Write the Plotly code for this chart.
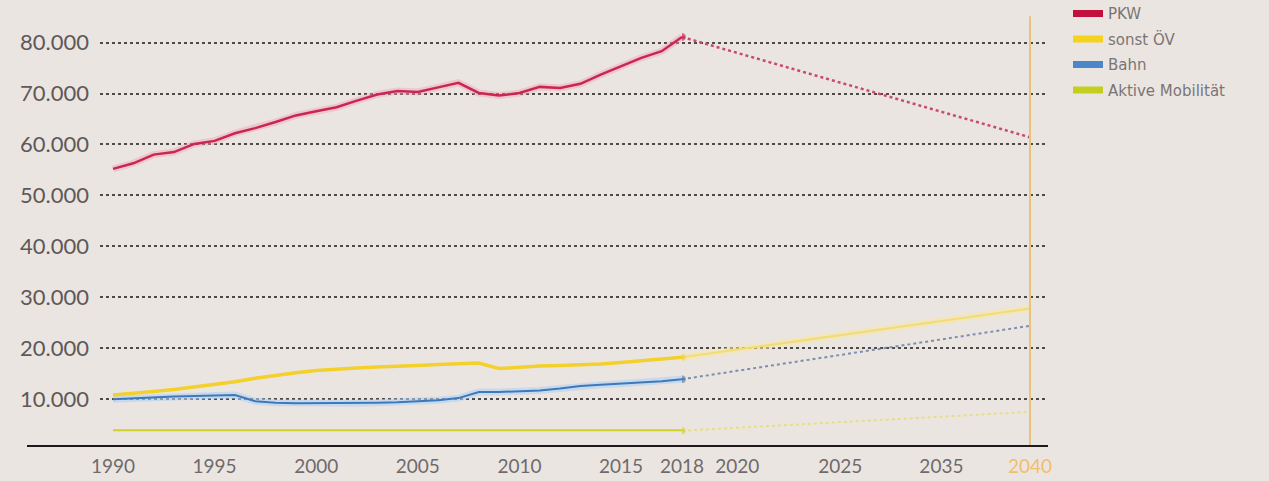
import plotly.graph_objects as go

# ---- data ----
years = list(range(1990, 2019))
pkw = [55200, 56300, 58000, 58500, 60100, 60700, 62200, 63200, 64400, 65700,
       66500, 67300, 68600, 69800, 70500, 70300, 71200, 72100, 70100, 69600,
       70100, 71300, 71100, 71900, 73700, 75400, 77000, 78300, 81100]
sonst_oev = [10800, 11100, 11500, 11900, 12400, 12900, 13400, 14100, 14700, 15200,
             15600, 15900, 16100, 16300, 16400, 16600, 16800, 17000, 17100, 16000,
             16300, 16500, 16600, 16700, 16900, 17200, 17600, 17900, 18200]
bahn = [10000, 10200, 10400, 10500, 10600, 10700, 10800, 9600, 9300, 9200,
        9200, 9200, 9200, 9300, 9400, 9600, 9800, 10200, 11400, 11400,
        11500, 11700, 12100, 12600, 12800, 13000, 13300, 13500, 13900]
aktiv = [3900] * 29

proj_years = [2018, 2040]
pkw_proj = [81100, 61400]
sonst_oev_proj = [18200, 27800]
bahn_proj = [13900, 24400]
aktiv_proj = [3800, 7500]

hist_ticks = [1990, 1995, 2000, 2005, 2010, 2015, 2018]
proj_tick_labels = ["2020", "2025", "2035", "2040"]
proj_tick_pos = [2021.5, 2028.0, 2034.4, 2040]
y_ticks = [10000, 20000, 30000, 40000, 50000, 60000, 70000, 80000]

names = ["PKW", "sonst ÖV", "Bahn", "Aktive Mobilität"]
legend_colors = ["#c2103f", "#f5d21c", "#4a86c8", "#c3cf1c"]

# ---- styles ----
BG = "#ebe5e2"
c_pkw = "#c8284f"
c_oev = "#f3d02a"
c_bahn = "#3f78b8"
c_akt = "#cfd12a"

fig = go.Figure()

# halos
fig.add_trace(go.Scatter(x=years, y=pkw, mode="lines", xaxis="x", yaxis="y",
                         line=dict(color="rgba(240,160,185,0.45)", width=7),
                         hoverinfo="skip", showlegend=False))
fig.add_trace(go.Scatter(x=years, y=bahn, mode="lines", xaxis="x", yaxis="y",
                         line=dict(color="rgba(175,210,245,0.6)", width=7),
                         hoverinfo="skip", showlegend=False))
fig.add_trace(go.Scatter(x=proj_years, y=sonst_oev_proj, mode="lines", xaxis="x2", yaxis="y",
                         line=dict(color="rgba(248,232,160,0.55)", width=7),
                         hoverinfo="skip", showlegend=False))

# historical lines
fig.add_trace(go.Scatter(x=years, y=aktiv, mode="lines", name=names[3],
                         line=dict(color=c_akt, width=2), showlegend=False))
fig.add_trace(go.Scatter(x=years, y=sonst_oev, mode="lines", name=names[1],
                         line=dict(color=c_oev, width=3.5), showlegend=False))
fig.add_trace(go.Scatter(x=years, y=bahn, mode="lines", name=names[2],
                         line=dict(color=c_bahn, width=2), showlegend=False))
fig.add_trace(go.Scatter(x=years, y=pkw, mode="lines", name=names[0],
                         line=dict(color=c_pkw, width=2.5), showlegend=False))

# projections
proj = [(pkw_proj, "#c84a6c", c_pkw, "dot", 2.5),
        (sonst_oev_proj, "#f1dc78", c_oev, "solid", 2),
        (bahn_proj, "#7d8fae", c_bahn, "dot", 2),
        (aktiv_proj, "#e4df86", c_akt, "dot", 2)]
for i, (vals, lc, mc, dash, w) in enumerate(proj):
    fig.add_trace(go.Scatter(x=proj_years, y=vals, mode="lines+markers",
                             xaxis="x2", yaxis="y",
                             line=dict(color=lc, width=w, dash=dash),
                             marker=dict(color=mc, size=[7, 0]),
                             showlegend=False, hoverinfo="skip"))

# legend entries
for n, c in zip(names, legend_colors):
    fig.add_trace(go.Scatter(x=[None], y=[None], mode="lines", name=n, legendgroup=n,
                             line=dict(color=c, width=7), showlegend=True))

L, R = 100, 1048
W = 1269
split = (682 - L) / (R - L)

fig.update_layout(
    width=W, height=481,
    margin=dict(l=L, r=W - R, t=12, b=35, autoexpand=False),
    paper_bgcolor=BG, plot_bgcolor=BG,
    separators=",.",
    font=dict(family="Lato, sans-serif", color="#6a6464"),
    xaxis=dict(domain=[0, split], range=[1990 - 13 / 20.32, 2018],
               tickvals=hist_ticks, ticktext=[str(t) for t in hist_ticks],
               showgrid=False, zeroline=False, showline=False, ticks="",
               tickfont=dict(size=19, color="#6f6a6a"), ticklabelstandoff=7,
               anchor="y"),
    xaxis2=dict(domain=[split, 1], range=[2018, 2040 + 18 / 15.82],
                tickvals=proj_tick_pos,
                ticktext=proj_tick_labels[:-1] + ["<span style='color:#f2bd6e'>2040</span>"],
                showgrid=False, zeroline=False, showline=False, ticks="",
                tickfont=dict(size=19, color="#6f6a6a"), ticklabelstandoff=7,
                anchor="y"),
    yaxis=dict(range=[800, 86000], tickvals=y_ticks, tickformat=",d",
               showgrid=True, gridcolor="#4e4a4a", griddash="dot", gridwidth=1.5,
               zeroline=False, showline=False, ticks="",
               tickfont=dict(size=22, color="#5e5858"), ticklabelstandoff=10),
    legend=dict(x=(1068 - L) / (R - L), xanchor="left", y=1.034, yanchor="top",
                bgcolor="rgba(0,0,0,0)",
                font=dict(family="DejaVu Sans, sans-serif", size=15, color="#7a7575"),
                itemwidth=30, tracegroupgap=3),
    shapes=[
        dict(type="line", xref="x2", yref="paper", x0=2040, x1=2040, y0=0, y1=0.99,
             line=dict(color="#e9c27c", width=2)),
        dict(type="line", xref="paper", yref="paper", x0=(27 - L) / (R - L), x1=1,
             y0=0, y1=0, line=dict(color="#1e1a1c", width=2)),
    ],
    showlegend=True,
)

fig.write_html("out.html", config={"displayModeBar": False},
               post_script="document.body.style.margin='0';document.body.style.overflow='hidden';")
